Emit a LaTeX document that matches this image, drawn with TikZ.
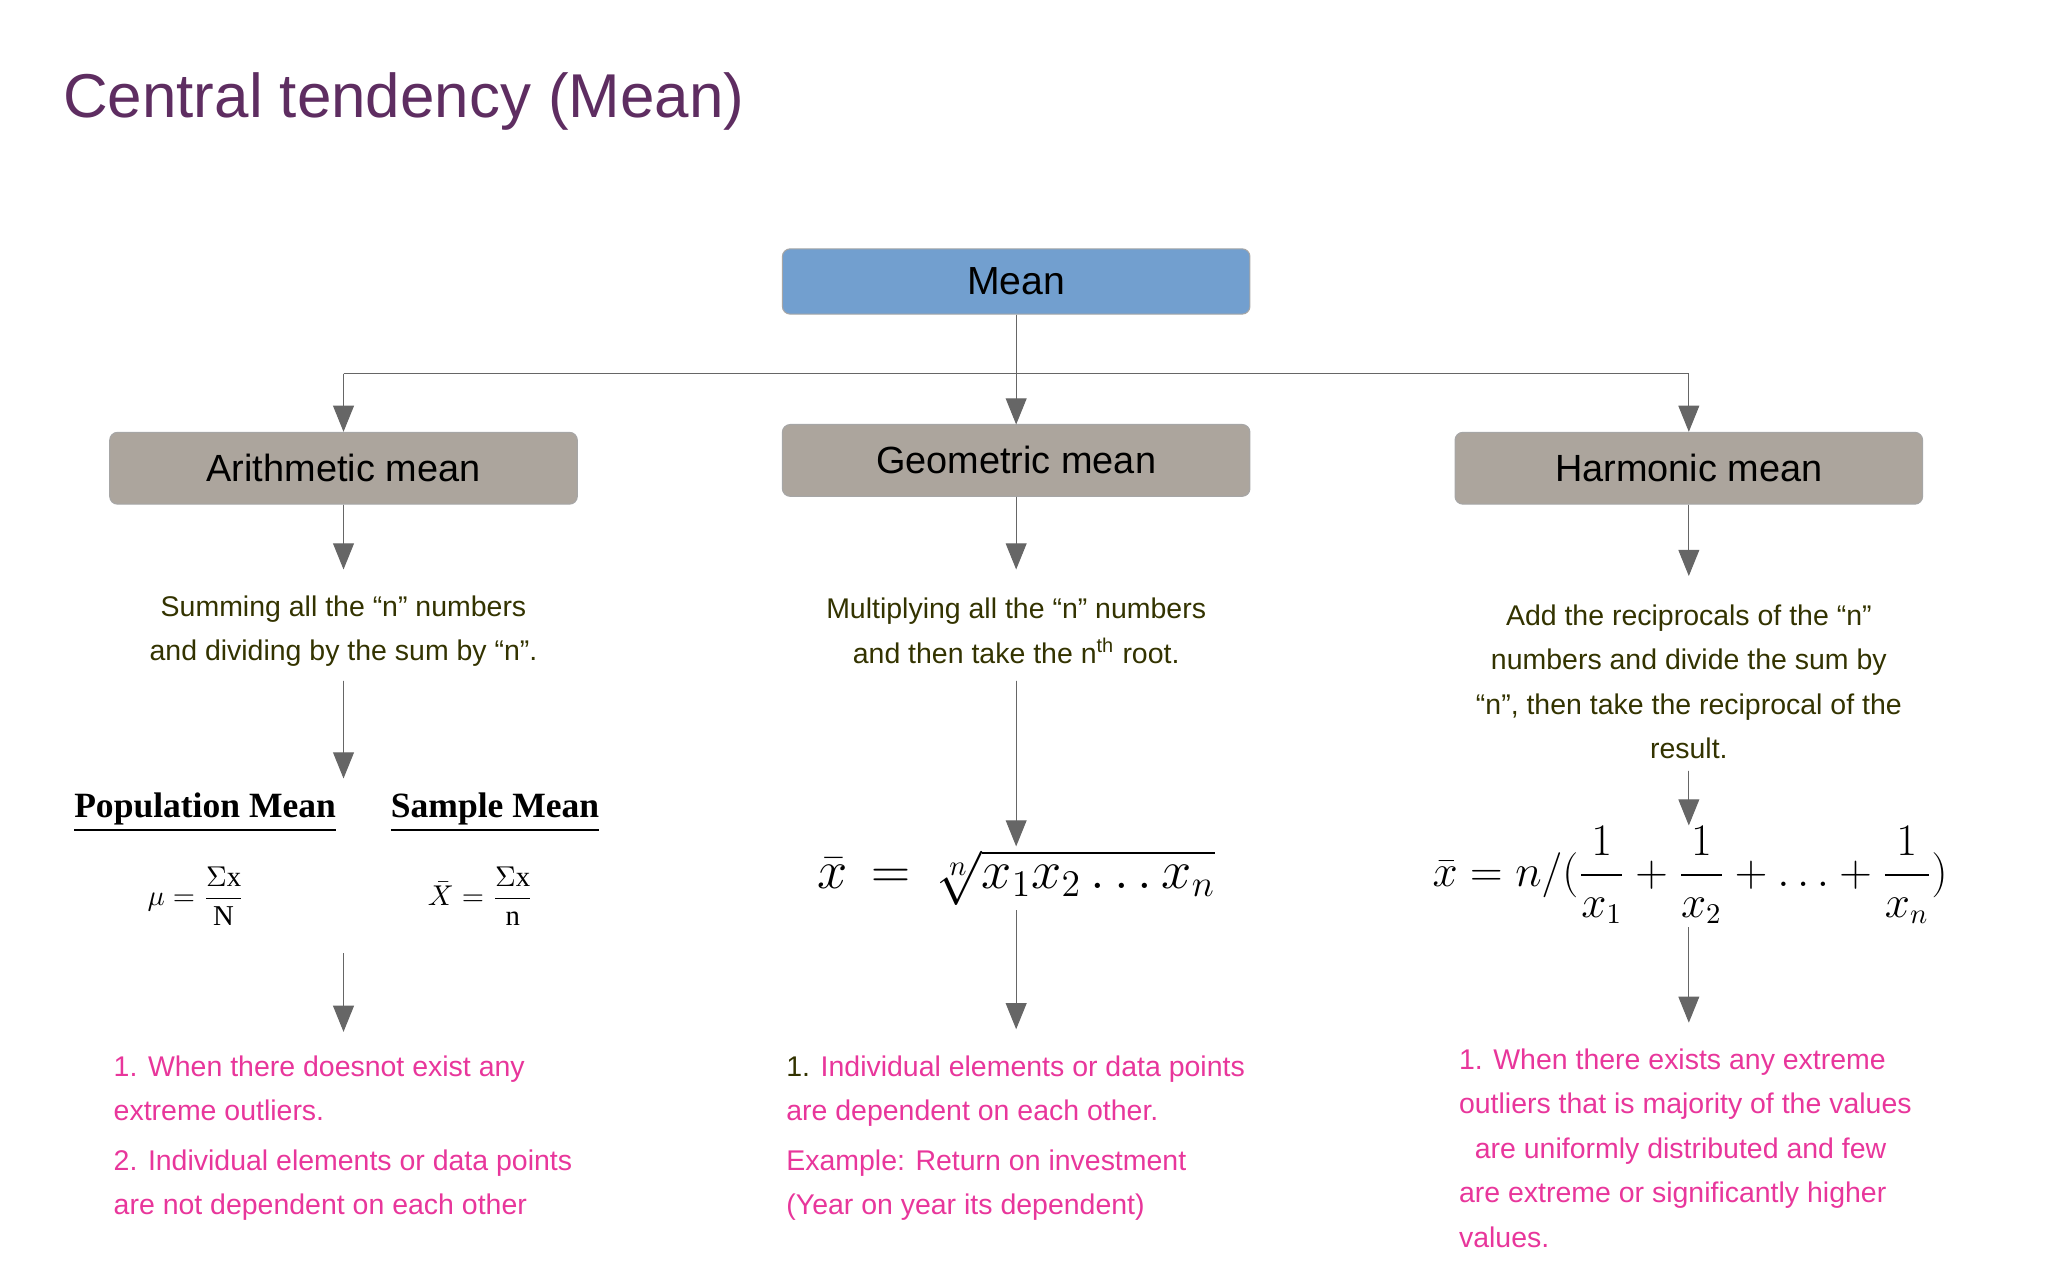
\documentclass[tikz,border=0pt]{standalone}
\usepackage{amsmath}
\usepackage{fontspec}
\setmainfont{Liberation Sans}
\newfontfamily\serifb{Liberation Serif}
\usetikzlibrary{arrows.meta}
\definecolor{ttl}{HTML}{5E2D61}
\definecolor{meanblue}{HTML}{729FCF}
\definecolor{boxgrey}{HTML}{ACA59D}
\definecolor{olive}{HTML}{333300}
\definecolor{pink}{HTML}{E8369B}
\tikzset{
  topbox/.style={draw=gray!70, rounded corners=3pt, minimum width=179pt, minimum height=25pt, font=\fontsize{15}{18}\selectfont},
  catbox/.style={draw=gray!70, fill=boxgrey, rounded corners=3pt, minimum width=179pt, minimum height=27.5pt, font=\fontsize{14.5}{18}\selectfont},
  arr/.style={-{Triangle[length=10pt,width=8pt]}, draw=black!60, fill=black, line width=0.4pt},
  desc/.style={align=center, text=olive, font=\fontsize{10.9}{17}\selectfont},
  note/.style={align=left, anchor=north west, text=pink, font=\fontsize{10.9}{17}\selectfont},
  hd/.style={font=\serifb\bfseries\fontsize{13.6}{15}\selectfont}
}
\begin{document}
\begin{tikzpicture}[x=0.5pt,y=-0.5pt]
\useasboundingbox (0,0) rectangle (1568,980);
\node[anchor=base west, text=ttl, font=\fontsize{23.7}{28}\selectfont, inner sep=0] (title) at (48,90) {Central tendency (Mean)};
\node[topbox, fill=meanblue] (mean) at (778,215.5) {Mean};
\node[catbox] (ar) at (263,358.5) {Arithmetic mean};
\node[catbox] (ge) at (778,352.5) {Geometric mean};
\node[catbox] (ha) at (1293,358.5) {Harmonic mean};
\coordinate (hl) at (263,286); \coordinate (hr) at (1293,286);
\draw[draw=black!60, line width=0.4pt] (hl) -- (hr);
\draw[arr] (mean.south) -- (778,325);
\draw[arr] (hl) -- (ar.north);
\draw[arr] (hr) -- (ha.north);
% descriptions
\node[desc] (ard) at (263,483) {Summing all the “n” numbers\\and dividing by the sum by “n”.};
\node[desc] (ged) at (778,483) {Multiplying all the “n” numbers\\and then take the n\textsuperscript{th} root.};
\node[desc] (had) at (1293,522) {Add the reciprocals of the “n”\\numbers and divide the sum by\\“n”, then take the reciprocal of the\\result.};
\coordinate (a1) at (263,436); \coordinate (g1) at (778,436); \coordinate (h1) at (1293,441);
\draw[arr] (ar.south) -- (a1);
\draw[arr] (ge.south) -- (g1);
\draw[arr] (ha.south) -- (h1);
% formulas
\node[hd] (pm) at (157,622) {\underline{Population Mean}};
\node[hd] (sm) at (379,622) {\underline{Sample Mean}};
\node (pf) at (150,686) {\fontsize{11}{13}\selectfont$\mu=\dfrac{\Sigma\text{\serifb x}}{\text{\serifb N}}$};
\node (sf) at (368,686) {\fontsize{11}{13}\selectfont$\bar{X}=\dfrac{\Sigma\text{\serifb x}}{\text{\serifb n}}$};
\node (gf) at (778,672) {\fontsize{21}{24}\selectfont$\bar{x}\,=\,\sqrt[n]{x_1x_2\ldots x_n}$};
\node (hf) at (1294,670) {\fontsize{16}{18}\selectfont$\bar{x}=n/(\dfrac{1}{x_1}+\dfrac{1}{x_2}+\ldots+\dfrac{1}{x_n})$};
\draw[arr] (263,521) -- (263,596);
\draw[arr] (778,521) -- (778,648);
\draw[arr] (1293,590) -- (1293,632);
\draw[arr] (263,730) -- (263,790);
\draw[arr] (778,697) -- (778,788);
\draw[arr] (1293,710) -- (1293,783);
% notes
\node[note] (an) at (80,801) {1. When there doesnot exist any\\extreme outliers.\\[2pt]2. Individual elements or data points\\are not dependent on each other};
\node[note] (gn) at (595,801) {{\color{olive}1.} Individual elements or data points\\are dependent on each other.\\[2pt]Example: Return on investment\\(Year on year its dependent)};
\node[note] (hn) at (1110,796) {1. When there exists any extreme\\outliers that is majority of the values\\\ \ are uniformly distributed and few\\are extreme or significantly higher\\values.};
\end{tikzpicture}
\end{document}
